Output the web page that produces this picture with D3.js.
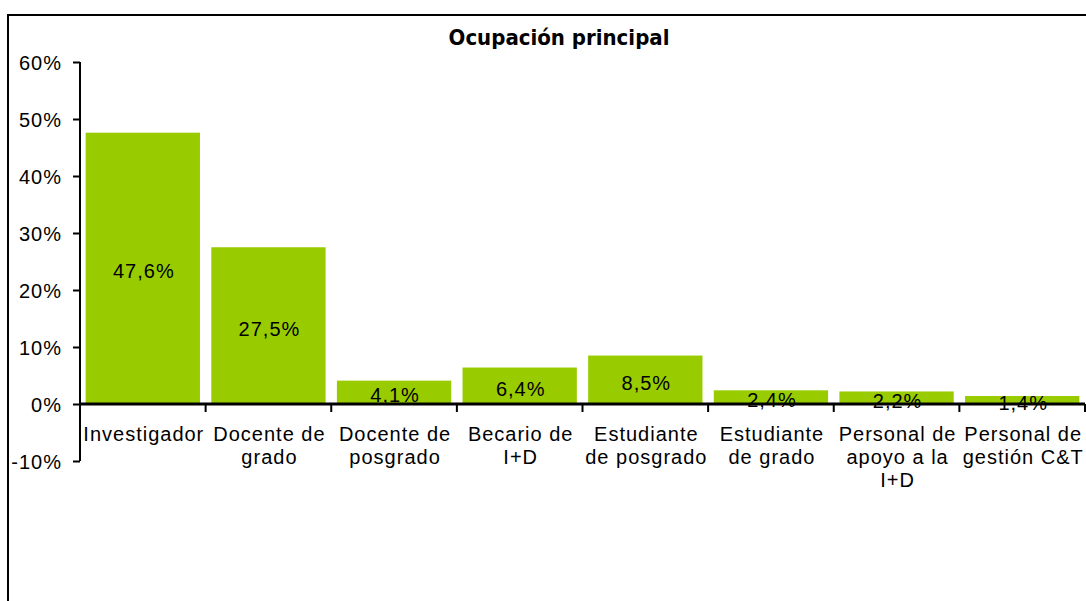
<!DOCTYPE html>
<html>
<head>
<meta charset="utf-8">
<script src="https://cdn.jsdelivr.net/npm/d3@7"></script>
<style>
  body { margin: 0; background: #fff; }
  svg { display: block; }
</style>
</head>
<body>
<script>
'use strict';

let categories = ['Investigador', 'Docente de grado', 'Docente de posgrado', 'Becario de I+D',
    'Estudiante de posgrado', 'Estudiante de grado', 'Personal de apoyo a la I+D', 'Personal de gestión C&T'];
let labelLines = [['Investigador'], ['Docente de', 'grado'], ['Docente de', 'posgrado'], ['Becario de', 'I+D'],
    ['Estudiante', 'de posgrado'], ['Estudiante', 'de grado'], ['Personal de', 'apoyo a la', 'I+D'], ['Personal de', 'gestión C&T']];
let values = [47.6, 27.5, 4.1, 6.4, 8.5, 2.4, 2.2, 1.4];
let yTicks = [-10, 0, 10, 20, 30, 40, 50, 60];

let w = 1086, h = 601;
let padLeft = 80, padRight = 1085, padTop = 62, padBottom = 461;

let svg = d3.select('body')
    .append('svg')
    .attr('width', w)
    .attr('height', h);

// outer frame of the chart area
svg.append('rect')
    .attr('x', 8)
    .attr('y', 15)
    .attr('width', 1200)
    .attr('height', 800)
    .attr('fill', 'none')
    .attr('stroke', '#000')
    .attr('stroke-width', 2);

svg.append('text')
    .text('Ocupación principal')
    .attr('x', 559)
    .attr('y', 45)
    .attr('text-anchor', 'middle')
    .attr('font-family', '"DejaVu Sans Condensed", "DejaVu Sans", sans-serif')
    .attr('font-weight', 'bold')
    .attr('font-size', '22px')
    .attr('fill', '#000');

let x = d3.scaleBand()
    .domain(categories)
    .range([padLeft, padRight])
    .paddingInner(0.09)
    .paddingOuter(0.045);

let y = d3.scaleLinear()
    .domain([-10, 60])
    .range([padBottom, padTop]);

let font = '"Liberation Sans", Arial, sans-serif';

svg.selectAll('rect.bar')
    .data(values)
    .enter()
    .append('rect')
    .attr('class', 'bar')
    .attr('x', (d, i) => x(categories[i]))
    .attr('y', (d) => y(d))
    .attr('width', x.bandwidth())
    .attr('height', (d) => y(0) - y(d))
    .attr('fill', '#99cc00');

svg.selectAll('text.val')
    .data(values)
    .enter()
    .append('text')
    .attr('class', 'val')
    .text((d) => d.toFixed(1).replace('.', ',') + '%')
    .attr('x', (d, i) => x(categories[i]) + x.bandwidth() / 2 + 1)
    .attr('y', (d) => (y(d) + y(0)) / 2 + 10)
    .attr('text-anchor', 'middle')
    .attr('font-family', font)
    .attr('font-size', '20px')
    .attr('letter-spacing', '1px')
    .attr('fill', '#000');

// y axis
let yAxis = svg.append('g')
    .attr('transform', 'translate(' + padLeft + ',0)')
    .call(d3.axisLeft(y).tickValues(yTicks).tickSize(7).tickPadding(11).tickFormat((d) => d + '%'));
yAxis.select('.domain').attr('stroke', '#000').attr('stroke-width', 2).attr('d', 'M0,' + padTop + 'V' + padBottom);
yAxis.selectAll('.tick line').attr('stroke', '#000').attr('stroke-width', 2);
yAxis.selectAll('.tick text')
    .attr('font-family', font)
    .attr('font-size', '20px')
    .attr('letter-spacing', '1px')
    .attr('dy', '0.35em')
    .attr('fill', '#000');

// x axis line at 0
let step = x.step();
let boundaries = d3.range(categories.length + 1).map((i) => padLeft + i * step);
svg.selectAll('line.xtick')
    .data(boundaries)
    .enter()
    .append('line')
    .attr('class', 'xtick')
    .attr('x1', (d) => d)
    .attr('x2', (d) => d)
    .attr('y1', y(0))
    .attr('y2', y(0) + 8)
    .attr('stroke', '#000')
    .attr('stroke-width', 2);

svg.append('line')
    .attr('x1', padLeft)
    .attr('x2', padRight)
    .attr('y1', y(0))
    .attr('y2', y(0))
    .attr('stroke', '#000')
    .attr('stroke-width', 3);

// category labels
let cat = svg.selectAll('text.cat')
    .data(labelLines)
    .enter()
    .append('text')
    .attr('class', 'cat')
    .attr('text-anchor', 'middle')
    .attr('font-family', font)
    .attr('font-size', '20px')
    .attr('letter-spacing', '1px')
    .attr('fill', '#000');

cat.selectAll('tspan')
    .data((d, i) => d.map((t) => ({ t: t, i: i })))
    .enter()
    .append('tspan')
    .attr('x', (d) => x(categories[d.i]) + x.bandwidth() / 2 + 1)
    .attr('y', (d, j) => 441 + j * 23)
    .text((d) => d.t);
</script>
</body>
</html>
